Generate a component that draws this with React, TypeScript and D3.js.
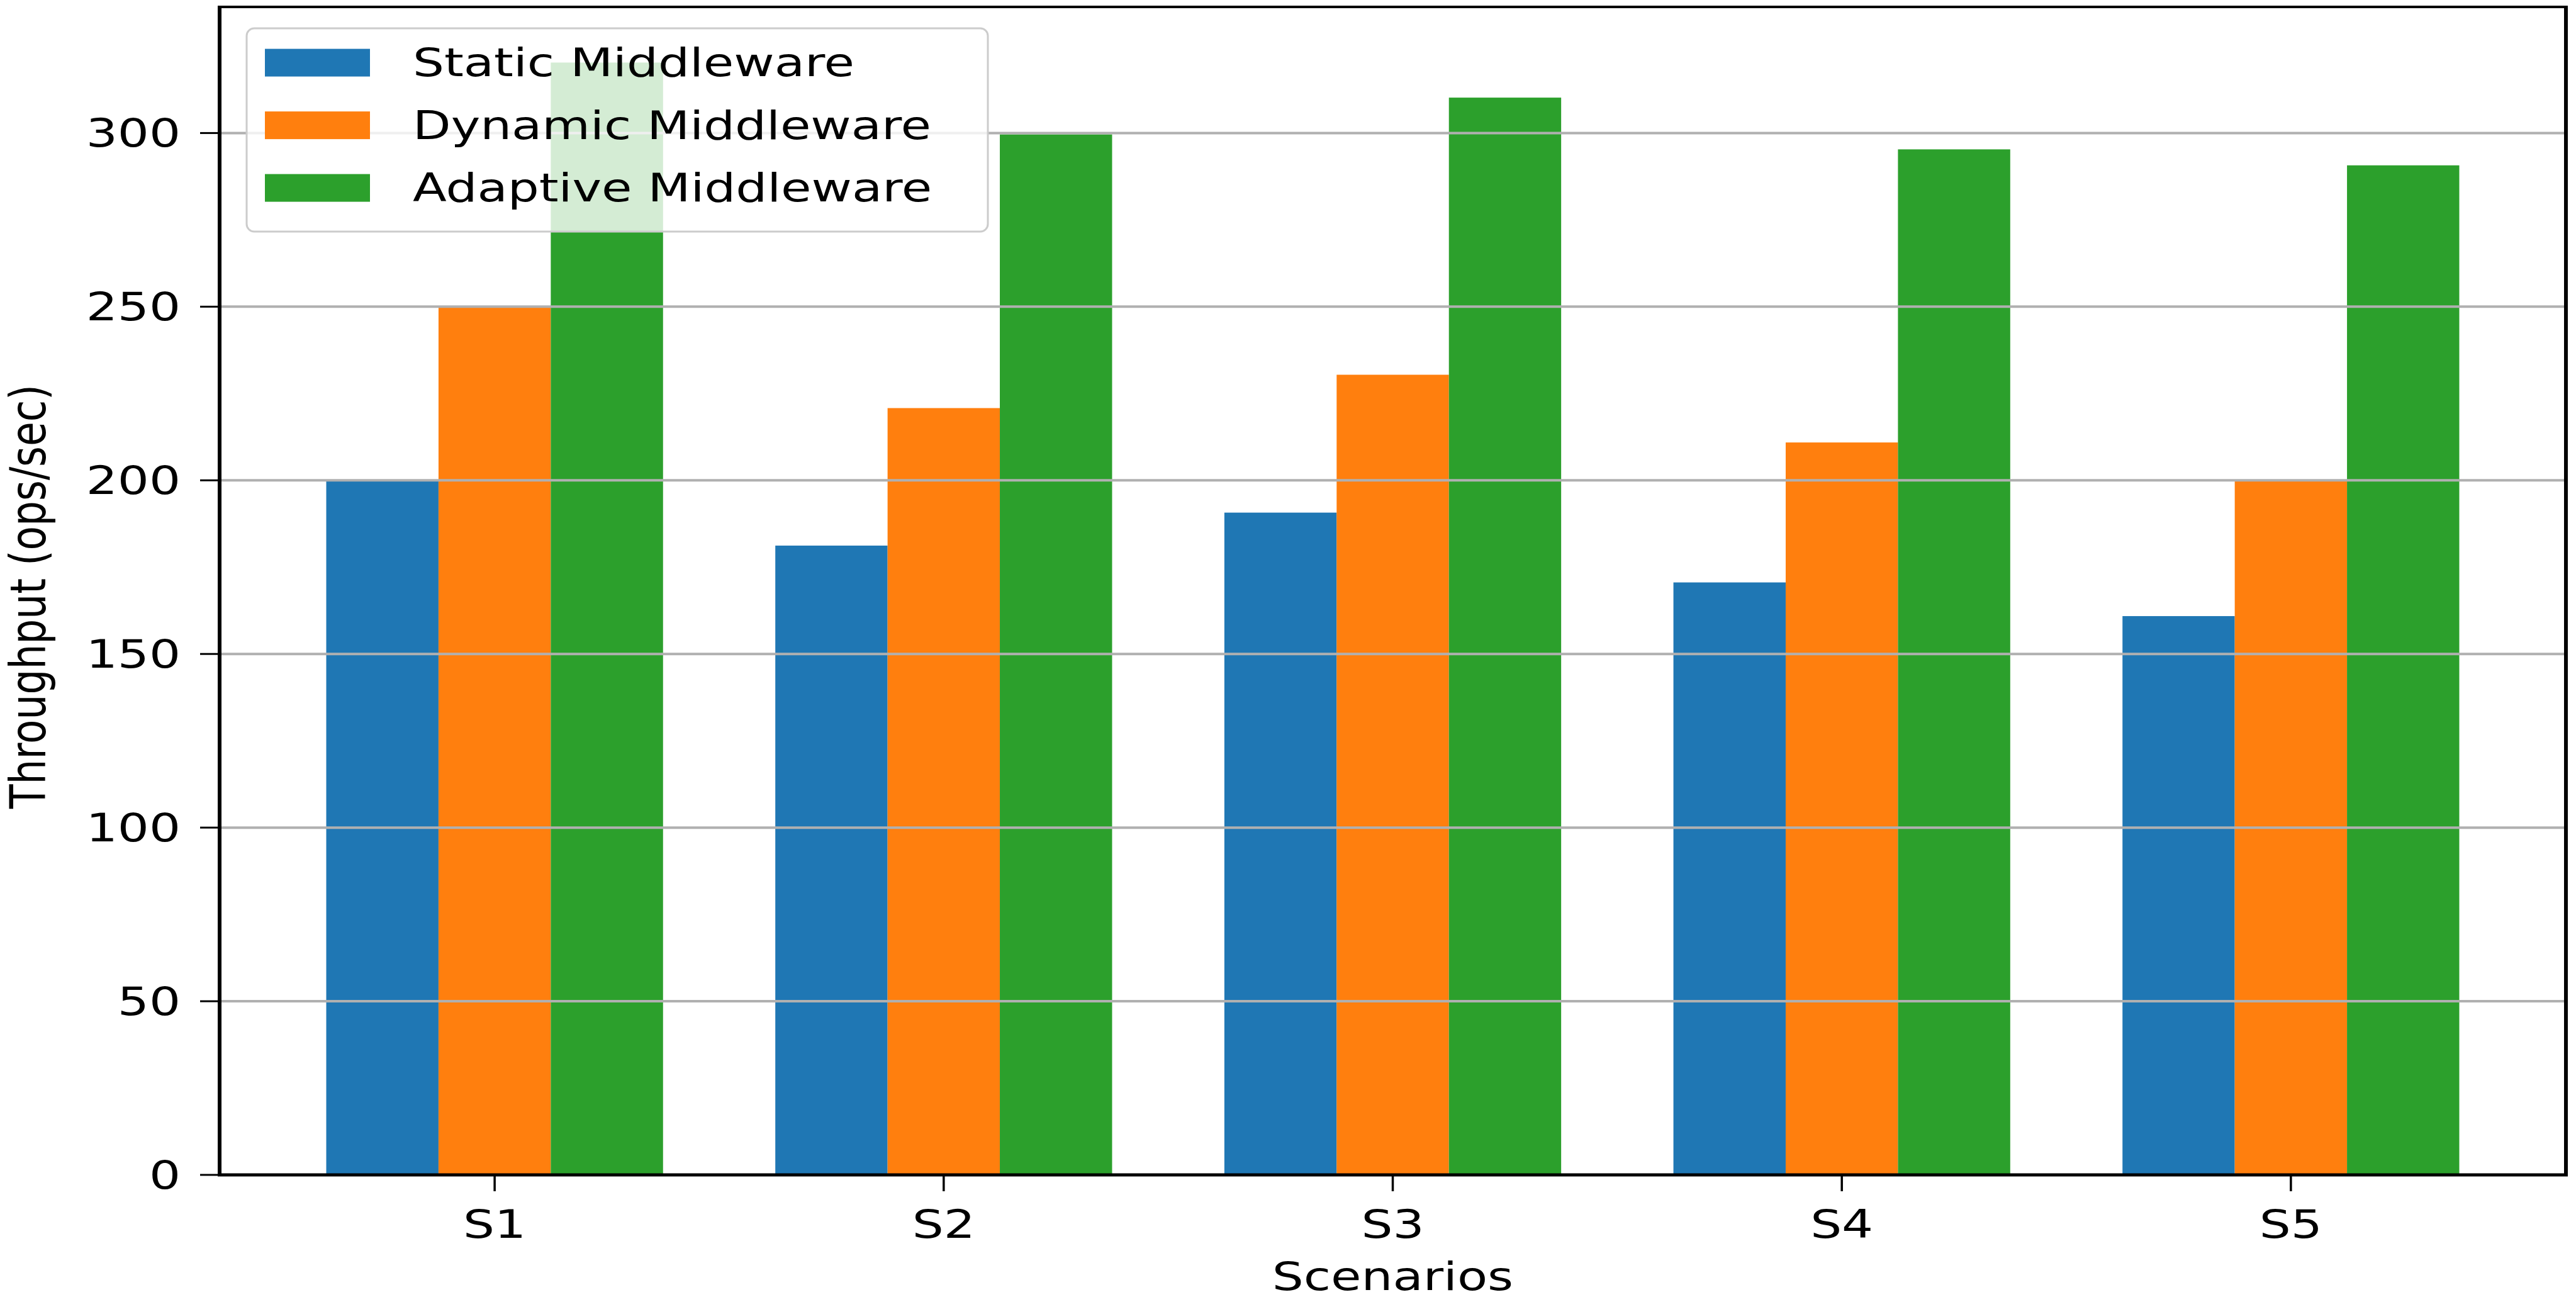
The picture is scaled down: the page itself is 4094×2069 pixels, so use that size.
import React from 'react';
import * as d3 from 'd3';

const scenarios = ['S1', 'S2', 'S3', 'S4', 'S5'];
const seriesNames = ['Static Middleware', 'Dynamic Middleware', 'Adaptive Middleware'];
const staticMw = [200, 181.2, 190.7, 170.6, 160.9];
const dynamicMw = [250, 220.8, 230.4, 210.9, 199.8];
const adaptiveMw = [320.3, 299.6, 310.2, 295.3, 290.7];
const yTicks = [0, 50, 100, 150, 200, 250, 300];
const colors = ['#1f77b4', '#ff7f0e', '#2ca02c'];

const W = 4094;
const H = 2069;
const plot = { left: 349, right: 4078, top: 11, bottom: 1867 };
const FONT = 'DejaVu Sans';
const FS = 63;
const SX = 1.25; // picture is stretched sideways
const barW = 0.25;

const App: React.FC = () => {
  const series = [staticMw, dynamicMw, adaptiveMw];

  // matplotlib style limits: bars span [-0.375, 4.375] plus 5% margins
  const lo = -barW * 1.5;
  const hi = scenarios.length - 1 + barW * 1.5;
  const pad = (hi - lo) * 0.05;
  const x = d3.scaleLinear().domain([lo - pad, hi + pad]).range([plot.left, plot.right]);
  const yMax = (d3.max(series.flat()) as number) * 1.05;
  const y = d3.scaleLinear().domain([0, yMax]).range([plot.bottom, plot.top]);

  const legend = { x: 392, y: 45, w: 1178, h: 323, rowGap: 99.5, first: 99.6 };

  return (
    <svg
      width={W}
      height={H}
      viewBox={`0 0 ${W} ${H}`}
      style={{ position: 'absolute', left: 0, top: 0, display: 'block', background: '#fff' }}
      fontFamily={FONT}
    >
      <rect x={0} y={0} width={W} height={H} fill="#fff" />

      {/* bars */}
      {series.map((vals, si) => (
        <g key={si}>
          {vals.map((v, i) => {
            const cx = i + (si - 1) * barW;
            return (
              <rect
                key={i}
                x={x(cx - barW / 2)}
                y={y(v)}
                width={x(cx + barW / 2) - x(cx - barW / 2)}
                height={y(0) - y(v)}
                fill={colors[si]}
              />
            );
          })}
        </g>
      ))}

      {/* grid on top of bars */}
      {yTicks.map((t) => (
        <line key={t} x1={plot.left} x2={plot.right} y1={y(t)} y2={y(t)} stroke="#b0b0b0" strokeWidth={4} />
      ))}

      {/* spines */}
      <line x1={plot.left} x2={plot.left} y1={plot.top} y2={plot.bottom + 2} stroke="#000" strokeWidth={6} />
      <line x1={plot.right} x2={plot.right} y1={plot.top} y2={plot.bottom + 2} stroke="#000" strokeWidth={6} />
      <line x1={plot.left - 3} x2={plot.right + 3} y1={plot.top} y2={plot.top} stroke="#000" strokeWidth={4} />
      <line x1={plot.left - 3} x2={plot.right + 3} y1={plot.bottom} y2={plot.bottom} stroke="#000" strokeWidth={5} />

      {/* y ticks */}
      {yTicks.map((t) => (
        <g key={t}>
          <line x1={plot.left - 31} x2={plot.left} y1={y(t)} y2={y(t)} stroke="#000" strokeWidth={3} />
          <g transform={`translate(287,${y(t)}) scale(${SX},1)`}>
            <text textAnchor="end" dominantBaseline="central" fontSize={FS} fill="#000">
              {t}
            </text>
          </g>
        </g>
      ))}

      {/* x ticks */}
      {scenarios.map((s, i) => (
        <g key={s}>
          <line x1={x(i)} x2={x(i)} y1={plot.bottom} y2={plot.bottom + 26} stroke="#000" strokeWidth={3.5} />
          <g transform={`translate(${x(i)},1967) scale(${SX},1)`}>
            <text textAnchor="middle" fontSize={FS} fill="#000">
              {s}
            </text>
          </g>
        </g>
      ))}

      {/* axis labels */}
      <g transform={`translate(${(plot.left + plot.right) / 2},2050) scale(${SX},1)`}>
        <text textAnchor="middle" fontSize={FS} fill="#000">
          Scenarios
        </text>
      </g>
      <g transform={`translate(72,${(plot.top + plot.bottom) / 2 + 9}) scale(${SX},1) rotate(-90)`}>
        <text textAnchor="middle" fontSize={FS} fill="#000">
          Throughput (ops/sec)
        </text>
      </g>

      {/* legend */}
      <g>
        <rect
          x={legend.x}
          y={legend.y}
          width={legend.w}
          height={legend.h}
          rx={12}
          fill="#fff"
          fillOpacity={0.8}
          stroke="#cccccc"
          strokeWidth={3}
        />
        {seriesNames.map((name, i) => {
          const cy = legend.y + legend.first - legend.y + i * legend.rowGap;
          return (
            <g key={name}>
              <rect x={421} y={cy - 22} width={167} height={44} fill={colors[i]} />
              <g transform={`translate(656,${cy}) scale(${SX},1)`}>
                <text dominantBaseline="central" fontSize={FS} fill="#000">
                  {name}
                </text>
              </g>
            </g>
          );
        })}
      </g>
    </svg>
  );
};

export default App;
